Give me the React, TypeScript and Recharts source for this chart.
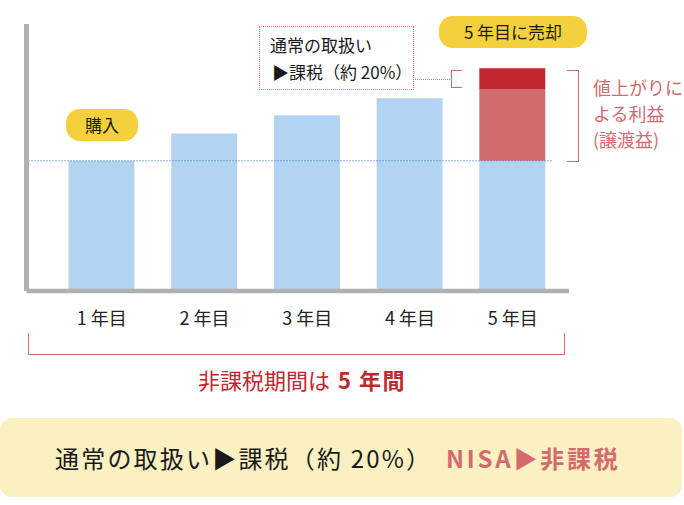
import { BarChart, Bar, XAxis, YAxis, ReferenceLine } from "recharts";

// values (purchase value = 100)
const years = ["1 年目", "2 年目", "3 年目", "4 年目", "5 年目"];
const holdingValue = [100, 121, 135, 148, 100];
const capitalGain = [0, 0, 0, 0, 55];
const taxPortion = [0, 0, 0, 0, 16];
const purchaseValue = 100;

const data = years.map((name, i) => ({
  name,
  base: holdingValue[i],
  gain: capitalGain[i],
  tax: taxPortion[i],
}));

const FONT = '"Noto Sans CJK JP", "Noto Sans", sans-serif';
const PINK = "#d46a6d";
const RED = "#c1272f";
const YELLOW = "#f4d13c";

function YearTick(props: any) {
  const { x, y, payload } = props;
  return (
    <text
      x={x}
      y={y + 26}
      textAnchor="middle"
      dominantBaseline="central"
      fontSize={18}
      fontFamily={FONT}
      fill="#222"
    >
      {payload.value}
    </text>
  );
}

// purchase-price line stops a little short of the plot's right edge
function PurchaseLine(props: any) {
  const { x1, y1, x2, y2 } = props;
  return (
    <line
      x1={x1 + 2}
      y1={y1}
      x2={x2 - 16}
      y2={y2}
      stroke="#2f6fbf"
      strokeWidth={1}
      strokeDasharray="1 2"
    />
  );
}

const abs = (l: number, t: number, extra: React.CSSProperties = {}): React.CSSProperties => ({
  position: "absolute",
  left: l,
  top: t,
  fontFamily: FONT,
  whiteSpace: "nowrap",
  ...extra,
});

export default function App() {
  return (
    <div style={{ position: "absolute", left: 0, top: 0, width: 684, height: 505, background: "#fff" }}>
      <BarChart
        width={684}
        height={505}
        data={data}
        margin={{ top: 24, right: 115, bottom: 0, left: 0 }}
        style={{ position: "absolute", left: 0, top: 0 }}
      >
        <YAxis
          type="number"
          domain={[0, 205]}
          width={26.5}
          tick={false}
          tickLine={false}
          axisLine={{ stroke: "#b1b1b1", strokeWidth: 5 }}
        />
        <XAxis
          dataKey="name"
          height={214}
          tickLine={false}
          tickSize={0}
          tickMargin={0}
          padding={{ left: 24, right: 5 }}
          axisLine={{ stroke: "#b1b1b1", strokeWidth: 4.5 }}
          tick={<YearTick />}
          interval={0}
        />
        <Bar dataKey="base" stackId="a" fill="#b3d4f0" barSize={66} isAnimationActive={false} />
        <Bar dataKey="gain" stackId="a" fill="#d06b6e" barSize={66} isAnimationActive={false} />
        <Bar dataKey="tax" stackId="a" fill="#c0262d" barSize={66} isAnimationActive={false} />
        <ReferenceLine y={purchaseValue} shape={<PurchaseLine />} />
      </BarChart>

      {/* purchase pill */}
      <div
        style={abs(66, 109, {
          width: 72,
          height: 32,
          borderRadius: 14,
          background: YELLOW,
          fontSize: 17,
          lineHeight: "32px",
          textAlign: "center",
          color: "#1a1a1a",
        })}
      >
        購入
      </div>

      {/* sell pill */}
      <div
        style={abs(439, 16, {
          width: 148,
          height: 32,
          borderRadius: 14,
          background: YELLOW,
          fontSize: 17,
          lineHeight: "32px",
          textAlign: "center",
          color: "#1a1a1a",
        })}
      >
        5 年目に売却
      </div>

      {/* dotted note box */}
      <div
        style={abs(259, 26, {
          width: 155,
          height: 64,
          border: "1px dotted #de7474",
          boxSizing: "border-box",
        })}
      />
      <div style={abs(270, 34, { fontSize: 17, lineHeight: "22px", color: "#1a1a1a" })}>通常の取扱い</div>
      <div style={abs(272, 61, { fontSize: 17, lineHeight: "22px", color: "#1a1a1a" })}>▶課税（約 20%）</div>
      <div style={abs(415, 79, { width: 37, height: 0, borderTop: "1px dotted #de7474" })} />

      {/* small bracket on tax part */}
      <div
        style={abs(451, 70, {
          width: 11,
          height: 18,
          borderLeft: `1.5px solid ${PINK}`,
          borderTop: `1.5px solid ${PINK}`,
          borderBottom: `1.5px solid ${PINK}`,
          boxSizing: "border-box",
        })}
      />

      {/* gain bracket */}
      <div
        style={abs(567, 70, {
          width: 12,
          height: 92,
          borderRight: `1.5px solid ${PINK}`,
          borderTop: `1.5px solid ${PINK}`,
          borderBottom: `1.5px solid ${PINK}`,
          boxSizing: "border-box",
        })}
      />
      <div style={abs(593, 74, { fontSize: 18, lineHeight: "26px", color: PINK })}>
        値上がりに
        <br />
        よる利益
        <br />
        (譲渡益)
      </div>

      {/* tax-free period bracket */}
      <div
        style={abs(28, 333, {
          width: 537,
          height: 22,
          borderLeft: `1.5px solid ${PINK}`,
          borderRight: `1.5px solid ${PINK}`,
          borderBottom: `1.5px solid ${PINK}`,
          boxSizing: "border-box",
        })}
      />
      <div style={abs(198, 365, { fontSize: 22, lineHeight: "28px", color: RED })}>
        非課税期間は
        <span style={{ fontWeight: 700, marginLeft: 8, letterSpacing: 1.5 }}>5 年間</span>
      </div>

      {/* bottom summary box */}
      <div style={abs(0, 418, { width: 682, height: 79, borderRadius: 12, background: "#faf0c2" })} />
      <div style={abs(55, 442, { fontSize: 24, lineHeight: "32px", letterSpacing: 2.2, color: "#1a1a1a" })}>
        通常の取扱い▶課税（約 20%）
      </div>
      <div
        style={abs(446, 442, {
          fontSize: 24,
          lineHeight: "32px",
          letterSpacing: 2.8,
          color: PINK,
          fontWeight: 700,
        })}
      >
        NISA▶非課税
      </div>
    </div>
  );
}
